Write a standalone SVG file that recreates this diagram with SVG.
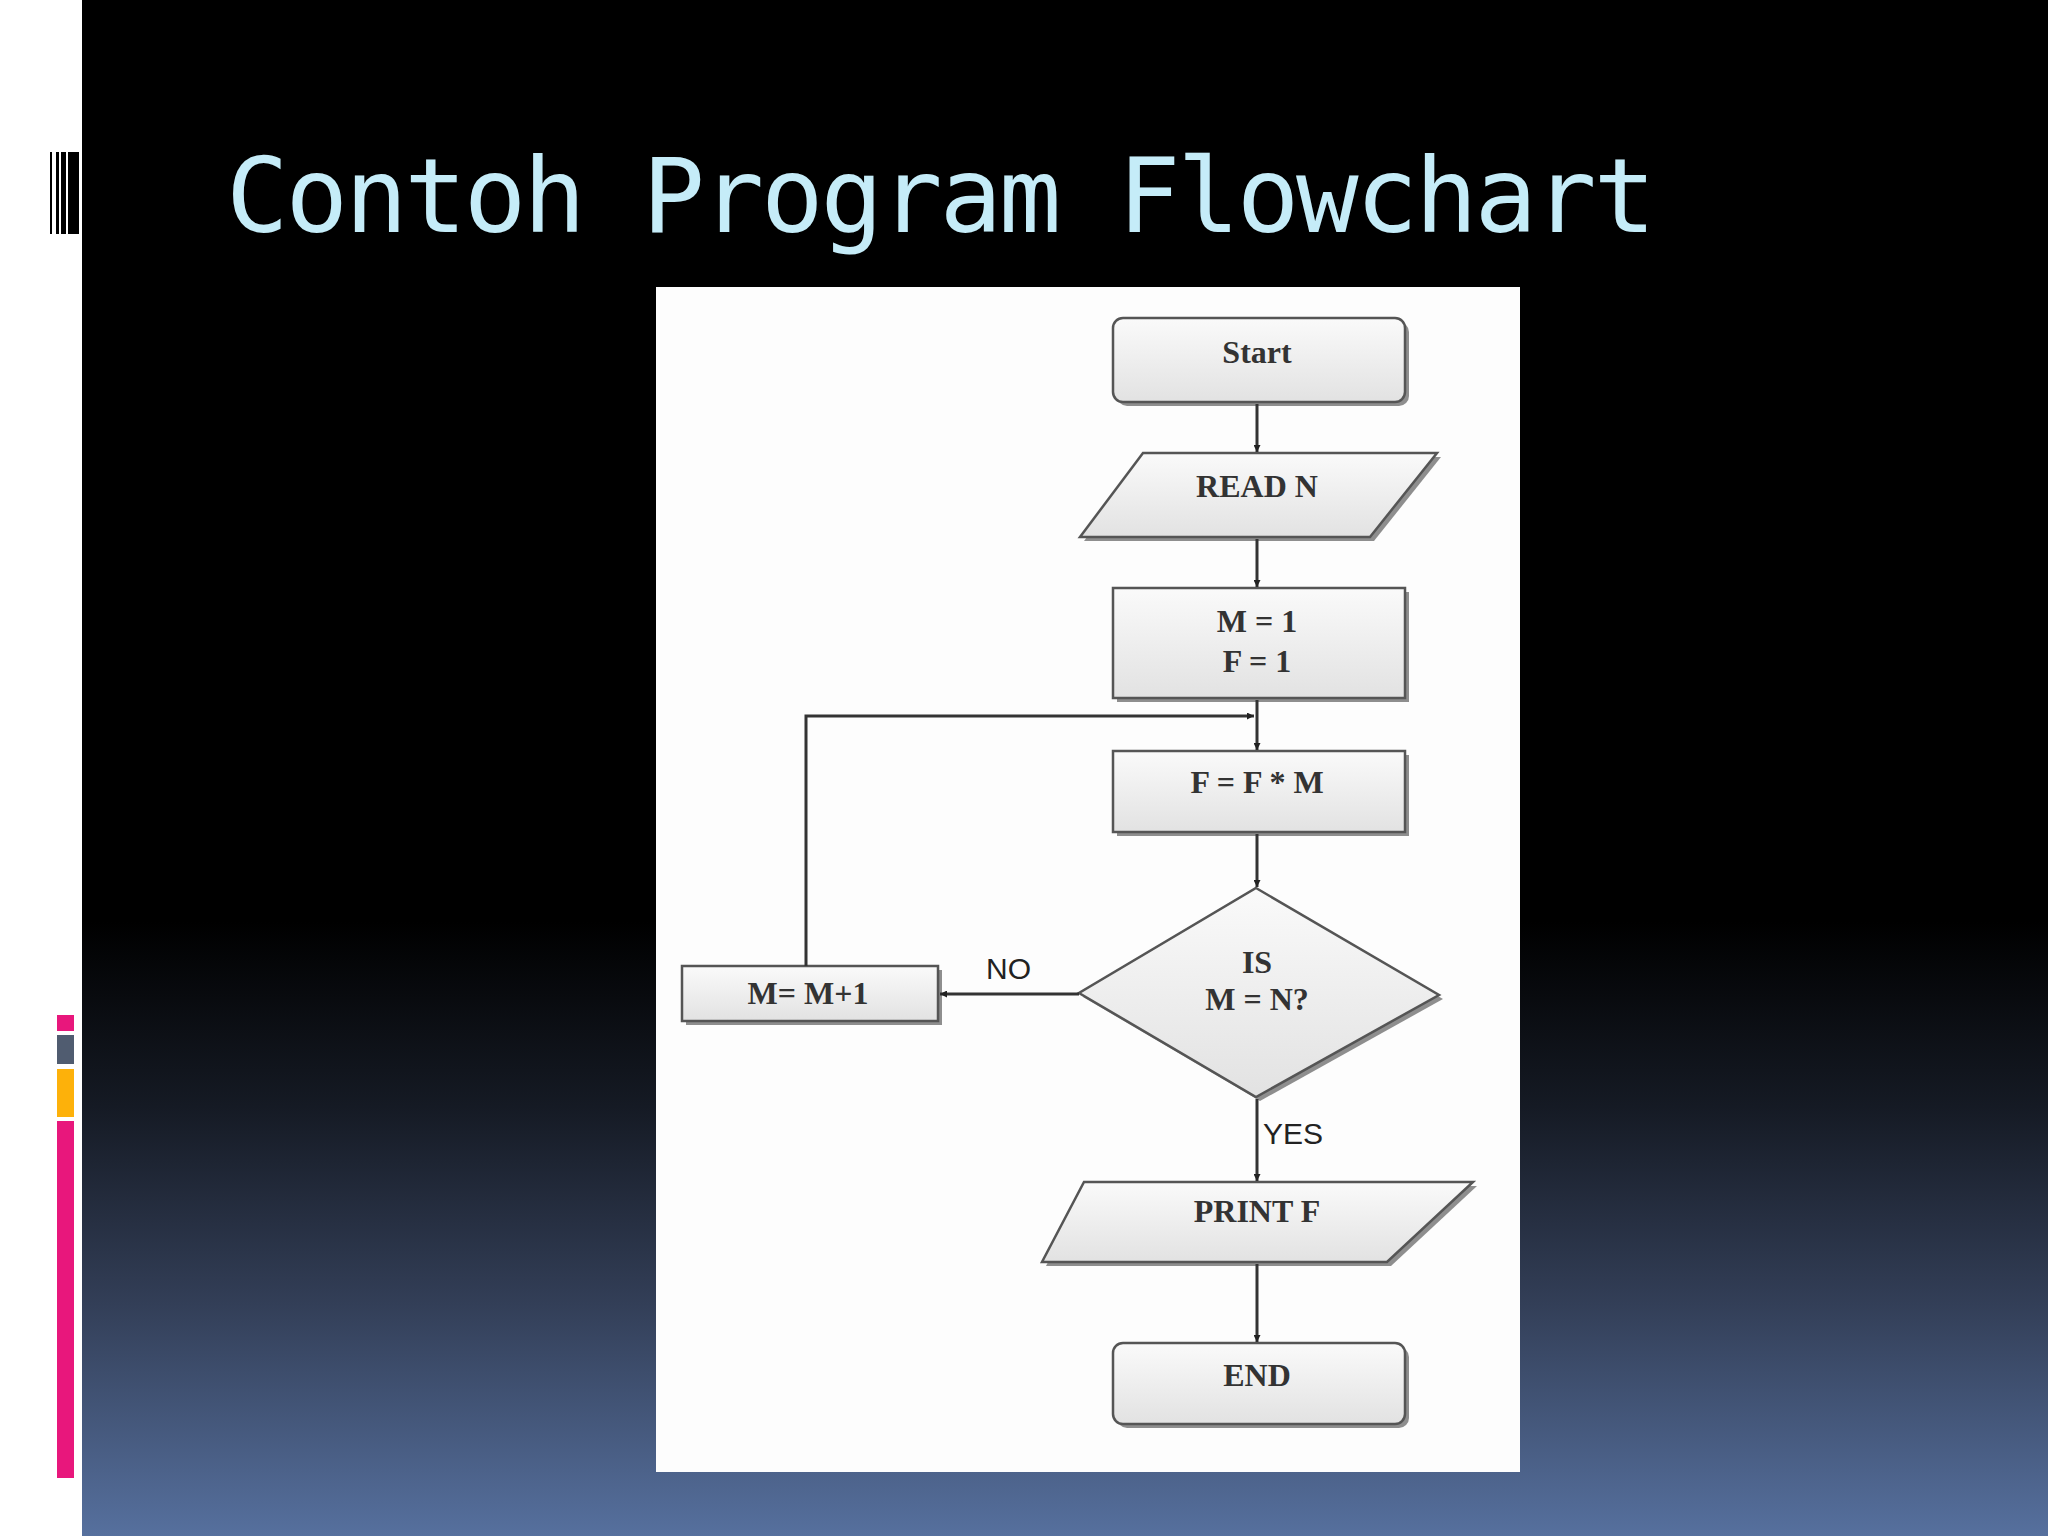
<svg xmlns="http://www.w3.org/2000/svg" width="2048" height="1536" viewBox="0 0 2048 1536">
<defs>
<linearGradient id="bg" x1="0" y1="0" x2="0" y2="1">
<stop offset="0" stop-color="#000"/><stop offset="0.6" stop-color="#000"/><stop offset="0.72" stop-color="#151a24"/><stop offset="0.85" stop-color="#333f58"/><stop offset="1" stop-color="#56709e"/>
</linearGradient>
<linearGradient id="nf" x1="0" y1="0" x2="0" y2="1"><stop offset="0" stop-color="#fafafa"/><stop offset="1" stop-color="#e2e2e2"/></linearGradient>
<marker id="ah" viewBox="0 0 10 10" refX="10" refY="5" markerWidth="7" markerHeight="7" markerUnits="userSpaceOnUse" orient="auto"><path d="M0,0 L10,5 L0,10 z" fill="#222"/></marker>
</defs>
<style>
.n{fill:url(#nf);stroke:#555;stroke-width:2.5}
.sh{fill:#444;opacity:0.6}
.t{font-family:"Liberation Serif",serif;font-size:32px;font-weight:bold;fill:#333;text-anchor:middle}
.l{font-family:"Liberation Sans",sans-serif;font-size:30px;fill:#222}
.c{fill:none;stroke:#333;stroke-width:3;marker-end:url(#ah)}
</style>
<rect width="2048" height="1536" fill="url(#bg)"/>
<rect width="82" height="1536" fill="#fff"/>
<g fill="#000"><rect x="50" y="152" width="2" height="82"/><rect x="56" y="152" width="3" height="82"/><rect x="61" y="152" width="5" height="82"/><rect x="68" y="152" width="11" height="82"/></g>
<rect x="57" y="1015" width="17" height="16" fill="#e8177c"/>
<rect x="57" y="1035" width="17" height="29" fill="#505c70"/>
<rect x="57" y="1069" width="17" height="48" fill="#fdb10a"/>
<rect x="57" y="1121" width="17" height="357" fill="#e8177c"/>
<text x="226" y="232" font-family="DejaVu Sans Mono, monospace" font-size="104" fill="#c5ecf8" textLength="1430">Contoh Program Flowchart</text>
<rect x="656" y="287" width="864" height="1185" fill="#fdfdfd"/>
<g id="start"><rect class="sh" x="1117" y="322" width="292" height="84" rx="10"/><rect class="n" x="1113" y="318" width="292" height="84" rx="10"/><text class="t" x="1257" y="363">Start</text></g>
<g id="readn"><polygon class="sh" points="1147,457 1441,457 1374,541 1084,541"/><polygon class="n" points="1143,453 1437,453 1370,537 1080,537"/><text class="t" x="1257" y="497">READ N</text></g>
<g id="init"><rect class="sh" x="1117" y="592" width="292" height="110"/><rect class="n" x="1113" y="588" width="292" height="110"/><text class="t" x="1257" y="632">M = 1</text><text class="t" x="1257" y="672">F = 1</text></g>
<g id="calc"><rect class="sh" x="1117" y="755" width="292" height="81"/><rect class="n" x="1113" y="751" width="292" height="81"/><text class="t" x="1257" y="793">F = F * M</text></g>
<g id="dec"><polygon class="sh" points="1260,892 1443,999 1260,1101 1083,997"/><polygon class="n" points="1256,888 1439,995 1256,1097 1079,993"/><text class="t" x="1257" y="973">IS</text><text class="t" x="1257" y="1010">M = N?</text></g>
<g id="inc"><rect class="sh" x="686" y="970" width="256" height="55"/><rect class="n" x="682" y="966" width="256" height="55"/><text class="t" x="808" y="1004">M= M+1</text></g>
<g id="print"><polygon class="sh" points="1088,1186 1477,1186 1391,1266 1046,1266"/><polygon class="n" points="1084,1182 1473,1182 1387,1262 1042,1262"/><text class="t" x="1257" y="1222">PRINT F</text></g>
<g id="end"><rect class="sh" x="1117" y="1347" width="292" height="81" rx="10"/><rect class="n" x="1113" y="1343" width="292" height="81" rx="10"/><text class="t" x="1257" y="1386">END</text></g>
<g id="connectors">
<line class="c" x1="1257" y1="404" x2="1257" y2="452"/>
<line class="c" x1="1257" y1="539" x2="1257" y2="587"/>
<line class="c" x1="1257" y1="700" x2="1257" y2="750"/>
<line class="c" x1="1257" y1="834" x2="1257" y2="887"/>
<polyline class="c" points="806,966 806,716 1254,716"/>
<line class="c" x1="1079" y1="994" x2="940" y2="994"/>
<line class="c" x1="1257" y1="1099" x2="1257" y2="1181"/>
<line class="c" x1="1257" y1="1264" x2="1257" y2="1342"/>
</g>
<text class="l" x="986" y="979">NO</text>
<text class="l" x="1263" y="1144">YES</text>
</svg>
